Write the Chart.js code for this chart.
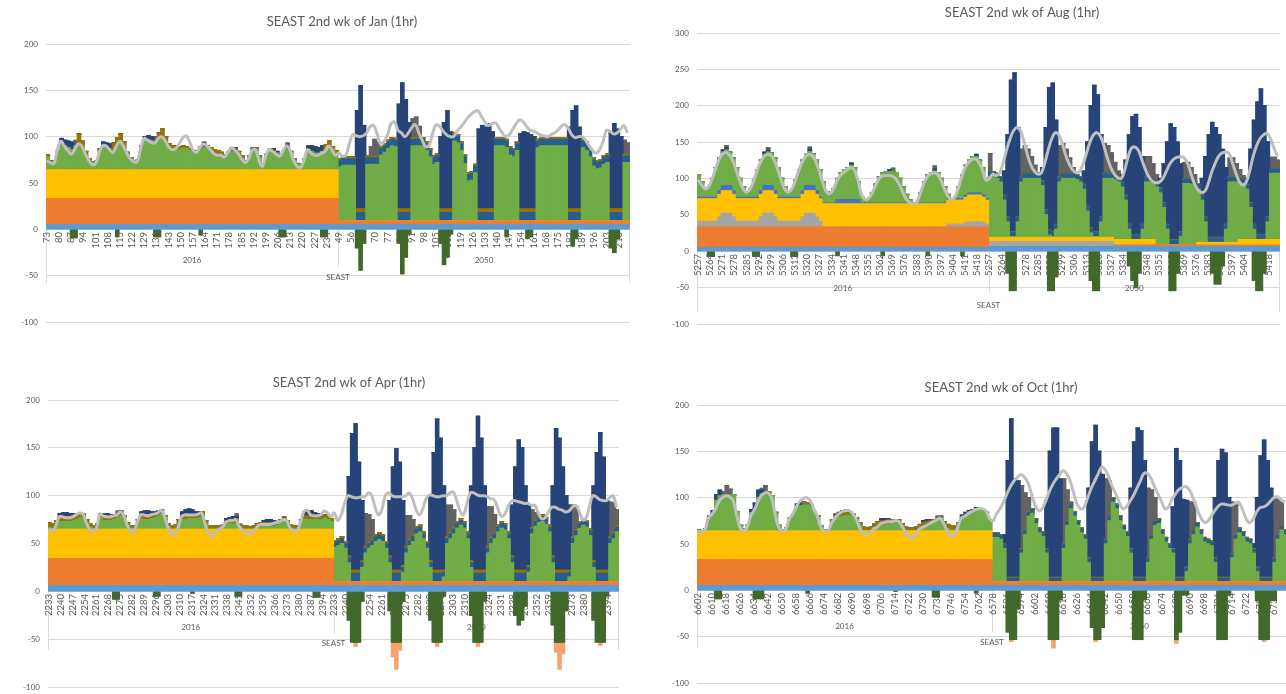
<!DOCTYPE html>
<html>
<head>
<meta charset="utf-8">
<script src="https://cdn.jsdelivr.net/npm/chart.js@4.4.0/dist/chart.umd.min.js"></script>
<style>
    html, body { margin: 0; padding: 0; background: #fff; width: 1286px; height: 694px; overflow: hidden; }
    canvas { position: absolute; }
</style>
</head>
<body>
<canvas id="jan" width="640" height="345" style="left:0;top:0"></canvas>
<canvas id="aug" width="646" height="345" style="left:640px;top:0"></canvas>
<canvas id="apr" width="640" height="345" style="left:0;top:355px"></canvas>
<canvas id="oct" width="652" height="345" style="left:640px;top:355px"></canvas>
<script>
// Each data list holds one entry per 2-hour step: 84 steps for the 2016 week, then 84 for 2050.
// A plain number is one step, [value, n] is the same value held for n steps.

// ---------- tick labels ----------
const janTicks16 = [73, 80, 87, 94, 101, 108, 115, 122, 129, 136, 143, 150, 157, 164, 171, 178, 185, 192, 199, 206, 213, 220, 227, 234];
const janTicks50 = [49, 56, 63, 70, 77, 84, 91, 98, 105, 112, 119, 126, 133, 140, 147, 154, 161, 168, 175, 182, 189, 196, 203, 210];
const augTicks = [5257, 5264, 5271, 5278, 5285, 5292, 5299, 5306, 5313, 5320, 5327, 5334, 5341, 5348, 5355, 5362, 5369, 5376, 5383, 5390, 5397, 5404, 5411, 5418];
const aprTicks = [2233, 2240, 2247, 2254, 2261, 2268, 2275, 2282, 2289, 2296, 2303, 2310, 2317, 2324, 2331, 2338, 2345, 2352, 2359, 2366, 2373, 2380, 2387, 2394];
const octTicks16 = [6602, 6610, 6618, 6626, 6634, 6642, 6650, 6658, 6666, 6674, 6682, 6690, 6698, 6706, 6714, 6722, 6730, 6738, 6746, 6754, 6762];
const octTicks50 = [6578, 6586, 6594, 6602, 6610, 6618, 6626, 6634, 6642, 6650, 6658, 6666, 6674, 6682, 6690, 6698, 6706, 6714, 6722, 6730, 6738];

// ---------- January ----------
const janLb = [[5, 84], [5, 84]];
const janOrange = [[28, 84], [4, 84]];
const janYellow = [[31, 84], [0, 84]];
const janGreen = [
    14, 9, 8, 21, 27, 26, 24, 22, 26, 28, 24, 16, 10, 8, 10, 21, 26, 24, 21, 21, 26, 29, 24, 16, 11, 9, 10, 24, 33, 32,
    31, 30, 32, 34, 28, 21, 20, 21, 22, 23, 23, 21, 19, 18, 22, 24, 24, 21, 16, 15, 16, 14, 16, 20, 19, 16, 12, 9, 14, 22,
    22, 14, 6, 16, 22, 20, 18, 16, 20, 22, 18, 11, 6, 4, 11, 22, 20, 18, 18, 20, 22, 26, 22, 18,
    58, 60, 60, 60, 60, [0, 3], 61, 61, 61, 61, 71, 74, 78, 81, 80, [0, 4], 81, 81, 81, 81, 76, 69, 61, 63, [0, 4],
    86, 84, 76, 62, 43, 44, 52, [0, 5], 81, 81, 81, 79, 71, 69, 76, [0, 5], 79, 81, 81, 81, 81, 81, 81, 81, 81, [0, 4],
    79, 76, 69, 59, 56, 57, 61, 63, [0, 4], 63, 63
];
const janMedblue = [[0, 84], [7, 5], [9, 3], [7, 9], [9, 4], [7, 8], [9, 4], [7, 7], [9, 5], [7, 7], [9, 5], [7, 9], [9, 4], [7, 8], [9, 4], [7, 2]];
const janOlive = [
    2, 1, 0, 0, 2, 0, 0, 0, 0, 11, 7, 4, 2, 1, 0, 2, 0, 0, 2, 8, 9, 10, 6, 3, 2, 1, 1, 2, 0, 1,
    1, 0, 8, 10, 8, 7, 6, 5, 3, 3, 2, 2, 1, 0, 0, 0, 2, 3, 6, 6, 3, 2, 3, 4, 2, 4, 3, 1, 1, 2,
    2, 1, 1, 1, 1, 1, 0, 1, 1, 0, 2, 1, 1, 1, 1, 0, 0, 0, 0, 0, 5, 5, 3, 3,
    [2, 5], [4, 3], [2, 9], [4, 4], [2, 8], [4, 4], [2, 7], [4, 5], [2, 7], [4, 5], [2, 9], [4, 4], [2, 8], [4, 4], [2, 2]
];
const janDarkblue = [
    [0, 4], 5, 6, 7, 8, [0, 8], 4, 5, 5, [0, 9], 3, 4, 4, [0, 12], 3, 3, [0, 9], 3, [0, 10], 2, 2, [0, 8], 4, 6, 7, 6, 6, [0, 4],
    [0, 5], 106, 133, 90, [0, 9], 113, 136, 118, 93, [0, 8], 78, 93, 106, 83, [0, 7], 86, 90, 88, 92, 83, [0, 7],
    81, 83, 82, 80, 78, [0, 9], 88, 106, 111, 88, [0, 8], 82, 92, 86, 78, [0, 2]
];
const janDgray = [
    [0, 8], 6, [0, 22], 6, [0, 13], 6, [0, 23], 7, [0, 14],
    [0, 9], 10, 18, 15, [0, 9], 20, 22, 12, [0, 58], 15, 12
];
const janNeg = [
    [0, 7], -9, -9, [0, 11], -8, [0, 10], -8, -8, [0, 11], -6, [0, 22], -8, -8, [0, 10], -8, -8, [0, 3],
    [0, 5], -20, -44, -15, [0, 9], -15, -48, -30, -5, [0, 8], -15, -38, -30, -5, [0, 15], -8, [0, 5], -10, -8, [0, 11],
    -18, -10, [0, 9], -20, -25, -10, [0, 3]
];
const janLine = [
    74, 72, 71, 85, 95, 90, 85, 81, 86, 92, 90, 82, 75, 70, 71, 82, 90, 90, 86, 83, 90, 95, 90, 82, 76, 73, 73, 88, 98, 96,
    94, 93, 98, 100, 96, 89, 86, 87, 92, 98, 101, 95, 86, 83, 88, 92, 90, 86, 82, 80, 80, 78, 82, 88, 86, 82, 76, 72, 76, 85,
    86, 75, 68, 80, 86, 84, 81, 79, 85, 90, 85, 74, 68, 67, 75, 86, 82, 80, 80, 82, 84, 90, 86, 80,
    82, 79, 80, 92, 102, 101, 100, 101, 104, 111, 112, 103, 92, 95, 102, 114, 116, 107, 104, 100, 104, 110, 113, 104, 96, 89, 91, 104, 113, 111,
    106, 102, 100, 100, 106, 110, 115, 120, 124, 127, 128, 122, 116, 112, 114, 115, 110, 104, 100, 102, 108, 114, 118, 116, 111, 107, 106, 104, 102, 101,
    100, 102, 104, 107, 111, 113, 109, 102, 99, 100, 100, 96, 90, 85, 82, 86, 95, 107, 106, 103, 104, 108, 112, 104
];

// ---------- August ----------
const augLb = [[5, 84], [6, 84]];
const augOrange = [[28, 84], [0, 36], [2, 12], [3, 12], [2, 24]];
const augLgray = [
    [8, 6], 14, 19, 19, 19, 14, [8, 7], 14, 19, 19, 19, 14, [8, 7], 14, 19, 19, 19, 14, [8, 1], [0, 36], 4, 4, 4, 4, 4, 6, 7, 7, 7, 7, 6, 4,
    [7, 36], [1, 12], [0, 36]
];
const augYellow = [[31, 36], [32, 36], 33, 33, 33, 33, 33, 35, 37, 37, 37, 37, 35, 33, [6, 36], [7, 12], [0, 12], [4, 12], [8, 12]];
const augBlue = [
    [2, 6], 5, 7, 7, 7, 5, [2, 7], 5, 7, 7, 7, 5, [2, 7], 5, 7, 7, 7, 5, [2, 1], [1, 4], 6, 6, 6, 6, 6, 6, 6, [1, 25],
    2, 2, 2, 2, 2, 3, 3, 3, 3, 3, 3, 2, [0, 84]
];
const augGreen = [
    31, 21, 12, 14, 26, 41, 45, 46, 49, 46, 45, 41, 26, 14, 8, 12, 24, 38, 42, 43, 46, 45, 45, 41,
    26, 14, 8, 12, 24, 38, 42, 43, 47, 44, 43, 38, 29, 16, 14, 20, 29, 37, 41, 44, 47, 44, 24, 9,
    6, 6, 14, 26, 36, 42, 43, 43, 44, 42, 34, 22, 12, 4, 0, 2, 14, 29, 39, 42, 44, 42, 34, 22,
    6, 0, 3, 16, 33, 41, 46, 50, 50, 45, 38, 28,
    83, 83, 81, 76, 51, 21, 1, 1, 21, 76, 81, 81, 81, 81, 81, 71, 31, 3, 1, 11, 76, 81, 81, 81,
    81, 79, 76, 66, 36, 6, 1, 1, 21, 81, 81, 81, 82, 79, 72, 54, 14, 0, 0, 0, 14, 79, 79, 77,
    79, 71, 51, 21, 0, 0, 0, 11, 84, 84, 83, 81, 73, 58, 28, 0, 0, 0, 0, 0, 18, 83, 83, 83,
    78, 76, 69, 44, 14, 0, 0, 0, 24, 91, 91, 91
];
const augMedblue = [[0, 84], [6, 84]];
const augOlive = [[0, 84], [1, 84]];
const augDarkblue = [
    [0, 7], 3, 3, [0, 10], 3, 3, [0, 11], 3, [0, 11], 3, [0, 10], 3, [0, 12], 3, [0, 11], 3, [0, 3],
    [0, 4], 33, 113, 208, 218, 123, [0, 6], 18, 113, 196, 204, 143, [0, 7], 18, 88, 168, 201, 188, 113, [0, 5],
    10, 48, 123, 162, 165, 147, 93, [0, 4], 13, 53, 113, 159, 154, 134, 93, [0, 5], 23, 83, 141, 158, 151, 141, 121, 78, [0, 5],
    8, 73, 143, 182, 200, 177, 103, [0, 3]
];
const augDgray = [
    [0, 8], 3, [0, 11], 3, [0, 11], 3, [0, 23], 4, [0, 11], 4, [0, 15],
    25, [0, 8], 38, 38, 33, 23, 11, 1, [0, 5], 43, 41, 33, 21, 8, [0, 8], 41, 38, 28, 17, 8, [0, 7], 28, 28, 20, 10, [0, 7],
    22, 22, 16, 8, [0, 9], 26, 26, 18, 11, 5, [0, 7], 15, 15, 11
];
const augNeg = [
    [0, 3], -7, -7, [0, 11], -7, -7, [0, 9], -7, -7, [0, 11], -6, [0, 12], -6, [0, 12], -6, [0, 9], -6, [0, 7],
    [0, 5], -30, -54, -54, [0, 9], -54, -54, -35, [0, 9], -40, -54, -54, [0, 8], -20, -40, -50, -30, [0, 8], -54, -54, -30, [0, 9],
    -30, -45, -45, -20, [0, 8], -40, -54, -54, -30, [0, 4]
];
const augLine = [
    98, 92, 86, 88, 98, 112, 125, 133, 136, 133, 125, 112, 98, 86, 81, 85, 96, 110, 122, 130, 133, 132, 125, 112,
    98, 86, 81, 85, 96, 110, 122, 130, 133, 131, 123, 110, 94, 82, 79, 85, 96, 104, 108, 112, 115, 112, 100, 80,
    72, 72, 78, 88, 98, 103, 104, 104, 103, 100, 92, 82, 72, 67, 65, 67, 78, 92, 102, 106, 108, 106, 98, 86,
    76, 71, 74, 86, 102, 115, 122, 126, 127, 122, 112, 98,
    100, 106, 104, 108, 122, 140, 155, 166, 170, 165, 150, 132, 118, 110, 106, 108, 122, 140, 155, 163, 160, 148, 132, 120,
    112, 108, 110, 120, 135, 150, 160, 163, 158, 145, 128, 115, 106, 101, 100, 112, 130, 142, 143, 138, 125, 112, 102, 96,
    94, 95, 100, 110, 120, 126, 129, 130, 129, 122, 108, 94, 85, 81, 82, 92, 108, 120, 130, 135, 136, 135, 122, 108,
    96, 91, 95, 110, 130, 145, 155, 160, 162, 155, 142, 130
];

// ---------- April ----------
const aprLb = [[6, 84], [6, 84]];
const aprOrange = [[28, 84], [4, 84]];
const aprYellow = [[31, 84], [0, 84]];
const aprGreen = [
    2, 1, 5, 8, 8, 8, 8, 9, 10, 12, 12, 6, 2, 1, 3, 12, 9, 9, 9, 10, 12, 14, 10, 4,
    1, 1, 6, 10, 10, 10, 11, 12, 14, 16, 10, 3, 0, 1, 6, 10, 10, 11, 11, 11, 12, 14, 6, 0,
    0, 0, 0, 1, 6, 6, 6, 6, 2, 0, 0, 0, 0, 2, 3, 3, 3, 3, 3, 4, 6, 8, 6, 1,
    0, 0, 6, 10, 10, 10, 10, 10, 10, 12, 10, 8,
    36, 38, 40, 35, 20, 0, 0, 0, 15, 30, 35, 38, 42, 44, 42, 35, 20, 0, 0, 0, 10, 30, 38, 42, 50, 52, 45, 35,
    15, 0, 0, 0, 5, 40, 45, 50, 56, 59, 56, 45, 15, 0, 0, 0, 0, 30, 40, 45, 52, 56, 54, 45, 20, 0, 0, 0, 0, 10,
    50, 58, 62, 63, 60, 52, 20, 0, 0, 0, 0, 5, 40, 48, 56, 59, 57, 48, 15, 0, 0, 0, 0, 40, 45, 52
];
const aprMedblue = [[0, 84], [5, 5], [9, 3], [5, 9], [9, 3], [5, 9], [9, 3], [5, 9], [9, 4], [5, 8], [9, 4], [5, 8], [9, 4], [5, 8], [9, 4], [5, 3]];
const aprOlive = [
    5, 4, 4, 5, 5, 5, 5, 5, 5, 4, 4, 4, 3, 2, 2, 4, 4, 4, 4, 4, 4, 5, 4, 3,
    2, 2, 4, 5, 5, 5, 4, 4, 4, 4, 4, 3, 3, 3, 4, 4, 4, 4, 4, 4, 4, 4, 3, 3,
    3, 3, 3, 3, 3, 3, 4, 5, 3, 3, 3, 2, 3, 4, 4, 4, 4, 4, 4, 4, 4, 3, 3, 3,
    3, 3, 4, 4, 4, 4, 3, 3, 3, 3, 3, 3,
    [2, 5], [3, 3], [2, 9], [3, 3], [2, 9], [3, 3], [2, 9], [3, 4], [2, 8], [3, 4], [2, 8], [3, 4], [2, 8], [3, 4], [2, 3]
];
const aprDarkblue = [
    [0, 3], 3, 4, 4, 3, 2, 1, [0, 7], 3, 3, 2, 1, [0, 7], 3, 4, 4, 3, 2, 1, [0, 6], 4, 6, 6, 5, 3, 2, [0, 7], 2, 3, 3, 2, [0, 7],
    2, 3, 3, 2, [0, 8], 4, 5, 5, 4, 3, 2, [0, 3],
    [0, 4], 83, 143, 153, 113, 63, [0, 7], 58, 108, 127, 113, 68, [0, 7], 68, 123, 158, 138, 88, [0, 7], 78, 128, 161, 138, 88, [0, 7],
    53, 108, 136, 128, 88, 63, [0, 6], 73, 148, 138, 108, 78, 68, [0, 6], 78, 123, 144, 118, 73, [0, 3]
];
const aprDgray = [
    [0, 20], 3, [0, 34], 3, [0, 13], 2, [0, 14],
    [0, 9], 34, 28, 20, [0, 9], 32, 24, 16, [0, 9], 33, 28, 18, [0, 9], 41, 31, 18, [0, 10], 18, 7, [0, 10], 33, 23, [0, 9], 36, 30, 16
];
const aprNeg = [
    [0, 19], -8, -8, [0, 10], -5, -5, [0, 9], -2, [0, 12], -5, -5, [0, 21], -6, -6, [0, 4],
    [0, 4], -30, -53, -53, -53, -10, [0, 7], -20, -53, -53, -53, -10, [0, 7], -30, -53, -53, -53, -5, [0, 7], -25, -53, -53, -53, -10, [0, 8],
    -25, -35, -30, -15, [0, 7], -35, -53, -53, -53, -20, [0, 7], -30, -53, -53, -53, -5, [0, 3]
];
const aprNegOrange = [[0, 84], [0, 6], -4, [0, 10], -15, -28, -8, [0, 10], -4, [0, 11], -4, [0, 22], -10, -28, -12, [0, 10], -3, [0, 5]];
const aprLine = [
    66, 63, 68, 78, 78, 77, 77, 78, 80, 82, 81, 72, 65, 63, 66, 81, 79, 78, 78, 79, 80, 83, 80, 70,
    63, 62, 72, 80, 80, 79, 80, 81, 82, 85, 79, 67, 61, 60, 66, 78, 80, 80, 80, 80, 81, 82, 70, 60,
    58, 62, 65, 67, 72, 74, 74, 75, 68, 64, 62, 60, 62, 66, 70, 70, 70, 70, 71, 72, 73, 75, 74, 66,
    63, 63, 72, 83, 85, 80, 79, 79, 80, 84, 82, 78,
    82, 74, 80, 92, 100, 99, 98, 98, 99, 99, 103, 100, 88, 80, 86, 100, 103, 100, 99, 99, 99, 100, 103, 97,
    86, 80, 86, 97, 101, 100, 99, 99, 100, 100, 103, 104, 95, 84, 80, 92, 103, 103, 101, 100, 100, 99, 97, 96,
    88, 79, 80, 88, 94, 95, 94, 93, 92, 92, 90, 90, 82, 76, 77, 83, 88, 88, 86, 85, 83, 84, 88, 90,
    84, 75, 76, 88, 100, 99, 96, 95, 95, 98, 100, 88
];

// ---------- October ----------
const octLb = [[5, 84], [5, 84]];
const octOrange = [[28, 84], [4, 84]];
const octYellow = [[31, 84], [0, 84]];
const octGreen = [
    1, 0, 2, 14, 18, 33, 38, 39, 39, 39, 39, 21, 6, 2, 6, 20, 24, 36, 40, 41, 40, 38, 20, 6,
    1, 3, 14, 18, 26, 27, 28, 28, 26, 20, 16, 5, 1, 1, 10, 14, 15, 16, 17, 17, 16, 12, 6, 1,
    0, 0, 4, 5, 6, 6, 7, 8, 9, 10, 6, 1, 0, 0, 0, 3, 5, 7, 8, 9, 11, 12, 8, 3,
    1, 1, 6, 14, 17, 20, 21, 23, 24, 23, 20, 12,
    48, 48, 46, 36, 0, 0, 0, 0, 31, 51, 71, 74, 63, 53, 49, 31, 0, 0, 0, 0, 36, 61, 79, 71,
    61, 53, 46, 21, 0, 0, 0, 0, 41, 66, 86, 79, 66, 56, 49, 31, 0, 0, 0, 0, 21, 46, 61, 63,
    51, 43, 36, 31, 0, 0, 0, 11, 41, 51, 59, 51, 43, 41, 39, 21, 0, 0, 0, 0, 26, 46, 53, 49,
    43, 41, 31, 11, 0, 0, 0, 0, 21, 46, 56, 51
];
const octMedblue = [[0, 84], [4, 84]];
const octOlive = [
    0, 0, 0, 0, 0, 0, 0, 0, 0, 0, 0, 0, 0, 0, 0, 0, 0, 0, 0, 0, 2, 0, 0, 0,
    0, 0, 0, 0, 0, 0, 3, 2, 2, 0, 0, 0, 0, 0, 2, 3, 3, 3, 3, 2, 2, 2, 3, 3,
    3, 4, 4, 5, 5, 5, 5, 4, 3, 2, 2, 3, 3, 3, 4, 4, 4, 3, 3, 3, 2, 0, 2, 4,
    4, 4, 3, 0, 0, 0, 0, 0, 0, 0, 0, 0,
    [1, 84]
];
const octDarkblue = [
    [0, 3], 2, 4, 6, 6, [0, 8], 3, 6, 8, 4, [0, 9], 3, 4, [0, 9], 1, 2, 3, 3, 2, [0, 8], 2, 2, 1, [0, 9], 2, 2, 1, [0, 8], 3, 3, 2, 2, 2, [0, 4],
    [0, 3], 10, 126, 171, 106, 104, [0, 7], 52, 136, 161, 161, 106, [0, 7], 75, 146, 164, 136, 111, [0, 7], 65, 146, 161, 158, 126, [0, 7],
    45, 139, 126, 84, 72, [0, 7], 65, 126, 138, 134, 86, [0, 6], 5, 75, 131, 148, 126, 96, [0, 4]
];
const octDgray = [
    [0, 7], 3, 10, 6, [0, 8], 2, 8, [0, 48], 3, 4, [0, 14],
    [0, 8], 68, 40, 15, [0, 9], 70, 33, 2, [0, 9], 65, 38, [0, 10], 75, 48, 25, [0, 9], 40, 30, [0, 10], 55, 32, [0, 10], 65, 38, 25, [0, 1]
];
const octNeg = [
    [0, 5], -9, -9, [0, 9], -9, -9, -9, [0, 12], -3, [0, 24], -1, [0, 10], -7, -7, [0, 10], -3, [0, 4],
    [0, 4], -45, -53, -53, -20, [0, 8], -53, -53, -53, -10, [0, 8], -40, -53, -53, -40, [0, 8], -53, -53, -53, -10, [0, 8],
    -53, -45, -5, -5, [0, 8], -53, -53, -53, -5, [0, 7], -11, -53, -53, -53, -11, -11, [0, 3]
];
const octNegOrange = [[0, 84], [0, 5], -2, [0, 11], -9, [0, 11], -2, [0, 22], -4, [0, 24], -2, [0, 6]];
const octLine = [
    64, 62, 65, 78, 82, 88, 96, 100, 102, 101, 97, 82, 68, 64, 68, 80, 86, 95, 102, 105, 105, 100, 82, 68,
    64, 66, 77, 82, 90, 96, 99, 100, 97, 88, 80, 68, 64, 64, 72, 78, 82, 85, 86, 86, 83, 78, 68, 61,
    60, 62, 66, 68, 72, 73, 74, 74, 75, 75, 70, 63, 58, 57, 60, 66, 68, 70, 72, 74, 76, 78, 72, 64,
    59, 59, 68, 78, 80, 83, 85, 87, 88, 88, 86, 78,
    75, 82, 88, 95, 104, 112, 118, 122, 125, 122, 116, 104, 92, 86, 88, 96, 106, 114, 120, 125, 129, 126, 118, 105,
    93, 88, 90, 100, 110, 118, 126, 133, 130, 122, 112, 104, 95, 88, 90, 96, 102, 110, 118, 126, 126, 121, 112, 104,
    96, 88, 90, 98, 104, 109, 111, 112, 108, 100, 90, 80, 74, 74, 79, 85, 90, 93, 93, 92, 92, 94, 95, 88,
    78, 73, 76, 84, 89, 90, 92, 96, 100, 101, 98, 95
];

// ---------- helpers ----------
const HOURS = 336;

// expand the 2-hour step lists into one value per hourly bar
const hours = (list) => {
    const out = [];
    list.forEach(e => {
        const [v, n] = Array.isArray(e) ? e : [e, 1];
        for (let i = 0; i < n; i++) out.push(v, v);
    });
    if (out.length !== HOURS) console.warn('length', out.length);
    return out;
};

// one point per step for the demand line, Chart.js draws the curve between them
const linePoints = (list) => {
    const out = [];
    list.forEach(v => out.push(v, null));
    if (out.length !== HOURS) console.warn('line length', out.length);
    return out;
};

const colors = {
    lb: '#5B9BD5', orange: '#ED7D31', yellow: '#FFC000', lgray: '#A5A5A5', blue: '#4472C4',
    green: '#70AD47', medblue: '#255E91', olive: '#997300', darkblue: '#264478', dgray: '#636363',
    neg: '#43682B', negOrange: '#F4A46E'
};
// bottom to top: light grey sits under the yellow band
const stackOrder = ['lb', 'orange', 'lgray', 'yellow', 'blue', 'green', 'medblue', 'olive', 'darkblue', 'dgray', 'neg', 'negOrange'];

const FONT = 'Lato, "Open Sans", sans-serif';
const TEXT = '#595959';
const GRID = '#D9D9D9';

// Excel style two level category axis: hour labels, year labels, region label, separators
const excelAxis = {
    id: 'excelAxis',
    beforeDatasetsDraw(chart, args, o) {
        const ctx = chart.ctx, xs = chart.scales.x, a = chart.chartArea;
        const y0 = Math.round(chart.scales.y.getPixelForValue(0));
        ctx.save();
        // separators
        ctx.strokeStyle = GRID;
        ctx.lineWidth = 1;
        const mid = Math.round((a.left + a.right) / 2) + 0.5;
        ctx.beginPath();
        ctx.moveTo(Math.round(a.left) + 0.5, y0); ctx.lineTo(Math.round(a.left) + 0.5, y0 + o.off[2]);
        ctx.moveTo(Math.round(a.right) - 0.5, y0); ctx.lineTo(Math.round(a.right) - 0.5, y0 + o.off[2]);
        ctx.moveTo(mid, y0); ctx.lineTo(mid, y0 + o.off[3]);
        ctx.stroke();
        // hour labels, rotated
        ctx.fillStyle = TEXT;
        ctx.font = '9.5px ' + FONT;
        ctx.textAlign = 'right';
        ctx.textBaseline = 'middle';
        o.ticks.forEach((ticks, half) => {
            ticks.forEach((t, j) => {
                const px = xs.getPixelForValue(half * 168 + j * o.step);
                ctx.save();
                ctx.translate(px, y0 + 3);
                ctx.rotate(-Math.PI / 2);
                ctx.fillText(String(t), 0, 0);
                ctx.restore();
            });
        });
        // year and region labels
        ctx.textAlign = 'center';
        ctx.font = '8px ' + FONT;
        ctx.fillText('2016', a.left + a.width * 0.25, y0 + o.off[0]);
        ctx.fillText('2050', a.left + a.width * 0.75, y0 + o.off[0]);
        ctx.fillText('SEAST', (a.left + a.right) / 2, y0 + o.off[1]);
        ctx.restore();
    },
    afterDraw(chart, args, o) {
        const ctx = chart.ctx;
        ctx.save();
        ctx.fillStyle = TEXT;
        ctx.font = '13px ' + FONT;
        ctx.textAlign = 'center';
        ctx.textBaseline = 'middle';
        ctx.fillText(o.title, o.titlePos[0], o.titlePos[1]);
        ctx.restore();
    }
};

const panels = [
    {
        id: 'jan', title: 'SEAST 2nd wk of Jan (1hr)', titlePos: [342, 22], yMax: 200, pad: [16, 44, 10, 23],
        ticks: [janTicks16, janTicks50], step: 7, off: [31, 48, 54, 38], line: janLine,
        series: { lb: janLb, orange: janOrange, yellow: janYellow, green: janGreen, medblue: janMedblue, olive: janOlive, darkblue: janDarkblue, dgray: janDgray, neg: janNeg }
    },
    {
        id: 'aug', title: 'SEAST 2nd wk of Aug (1hr)', titlePos: [382, 13], yMax: 300, pad: [27, 33, 6, 21],
        ticks: [augTicks, augTicks], step: 7, off: [37, 54, 61, 42], line: augLine,
        series: { lb: augLb, orange: augOrange, yellow: augYellow, lgray: augLgray, blue: augBlue, green: augGreen, medblue: augMedblue, olive: augOlive, darkblue: augDarkblue, dgray: augDgray, neg: augNeg }
    },
    {
        id: 'apr', title: 'SEAST 2nd wk of Apr (1hr)', titlePos: [349, 28], yMax: 200, pad: [18, 45, 21, 9],
        ticks: [aprTicks, aprTicks], step: 7, off: [36, 52, 59, 43], line: aprLine,
        series: { lb: aprLb, orange: aprOrange, yellow: aprYellow, green: aprGreen, medblue: aprMedblue, olive: aprOlive, darkblue: aprDarkblue, dgray: aprDgray, neg: aprNeg, negOrange: aprNegOrange }
    },
    {
        id: 'oct', title: 'SEAST 2nd wk of Oct (1hr)', titlePos: [361, 33], yMax: 200, pad: [27, 50, 5, 17],
        ticks: [octTicks16, octTicks50], step: 8, off: [36, 52, 58, 42], line: octLine,
        series: { lb: octLb, orange: octOrange, yellow: octYellow, green: octGreen, medblue: octMedblue, olive: octOlive, darkblue: octDarkblue, dgray: octDgray, neg: octNeg, negOrange: octNegOrange }
    }
];

const categories = Array.from({ length: HOURS }, (_, i) => i);

panels.forEach(p => {
    const datasets = [{
        type: 'line',
        label: 'Demand',
        data: linePoints(p.line),
        borderColor: '#BFBFBF',
        borderWidth: 3,
        pointRadius: 0,
        tension: 0.4,
        spanGaps: true,
        stack: 'demand',
        order: 0
    }];
    stackOrder.forEach(k => {
        if (!p.series[k]) return;
        datasets.push({
            type: 'bar',
            label: k,
            data: hours(p.series[k]),
            backgroundColor: colors[k],
            borderWidth: 0,
            barPercentage: 1,
            categoryPercentage: 1,
            inflateAmount: 0.6, // hides the hairline seams between neighbouring bars
            stack: 'gen',
            order: 1
        });
    });

    new Chart(document.getElementById(p.id), {
        type: 'bar',
        data: { labels: categories, datasets },
        options: {
            responsive: false,
            animation: false,
            events: [],
            layout: { padding: { left: p.pad[0], top: p.pad[1], right: p.pad[2], bottom: p.pad[3] } },
            plugins: {
                legend: { display: false },
                tooltip: { enabled: false },
                excelAxis: { title: p.title, titlePos: p.titlePos, ticks: p.ticks, step: p.step, off: p.off }
            },
            scales: {
                x: { stacked: true, display: false },
                y: {
                    stacked: true,
                    min: -100,
                    max: p.yMax,
                    afterFit: (s) => { s.width = 30; },
                    border: { display: false },
                    grid: { color: GRID, drawTicks: false },
                    ticks: { stepSize: 50, padding: 8, color: TEXT, font: { family: FONT, size: 8 } }
                }
            }
        },
        plugins: [excelAxis]
    });
});
</script>
</body>
</html>
